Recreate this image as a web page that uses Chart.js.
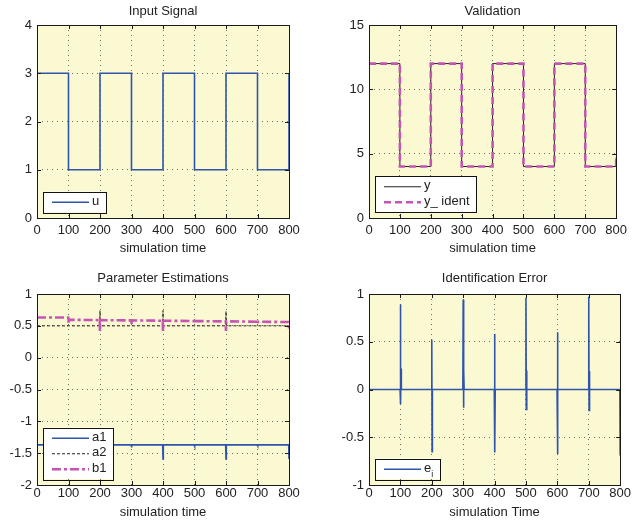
<!DOCTYPE html>
<html lang="en">
<head>
<meta charset="UTF-8">
<title>Identification results</title>
<script src="https://cdn.jsdelivr.net/npm/chart.js"></script>
<style>
body {
  margin: 0;
  background: #fff;
  width: 632px;
  height: 524px;
  position: relative;
  overflow: hidden;
}
.panel {
  position: absolute;
  width: 316px;
  height: 262px;
}
</style>
</head>
<body>
<div class="panel" style="left:0;top:0"><canvas id="input" width="316" height="262"></canvas></div>
<div class="panel" style="left:316px;top:0"><canvas id="valid" width="316" height="262"></canvas></div>
<div class="panel" style="left:0;top:262px"><canvas id="params" width="316" height="262"></canvas></div>
<div class="panel" style="left:316px;top:262px"><canvas id="error" width="316" height="262"></canvas></div>

<script>
// square wave signals: value held from each switch time to the next
const stepTimes = [0, 100, 200, 300, 400, 500, 600, 700, 800];
const uValues = [3, 1, 3, 1, 3, 1, 3, 1, 3];
const yValues = [12, 4, 12, 4, 12, 4, 12, 4, 4.7];
const yIdentValues = [12, 4, 12, 4, 12, 4, 12, 4, 4.7];

// parameter estimates (time, value)
const a1Times = [0, 99, 100, 101, 199, 200, 201, 299, 300, 301, 399, 400, 401, 499, 500, 501, 599, 600, 601, 699, 700, 701, 799, 800];
const a1Values = [-1.37, -1.37, -1.40, -1.37, -1.37, -1.45, -1.37, -1.37, -1.41, -1.37, -1.37, -1.59, -1.37, -1.37, -1.39, -1.37, -1.37, -1.59, -1.37, -1.37, -1.385, -1.37, -1.37, -1.59];
const a2Times = [0, 199, 200, 201, 399, 400, 401, 599, 600, 601, 800];
const a2Values = [0.5, 0.5, 0.74, 0.5, 0.5, 0.74, 0.5, 0.5, 0.73, 0.5, 0.5];
const b1Times = [0, 99, 100, 101, 199, 200, 201, 299, 300, 301, 399, 400, 401, 499, 500, 501, 599, 600, 601, 699, 700, 701, 799, 800];
const b1Values = [0.63, 0.63, 0.55, 0.595, 0.59, 0.42, 0.59, 0.585, 0.53, 0.585, 0.58, 0.42, 0.58, 0.575, 0.54, 0.575, 0.57, 0.42, 0.57, 0.565, 0.53, 0.565, 0.56, 0.45];

// identification error (time, value)
const eTimes = [0, 99, 100, 101, 102, 103, 199, 200, 201, 202, 299, 300, 301, 302, 303, 399, 400, 401, 402, 499, 500, 501, 502, 503, 599, 600, 601, 602, 699, 700, 701, 702, 703, 799, 800];
const eValues = [0, 0, 0.89, -0.155, 0.22, 0, 0, 0.52, -0.65, 0, 0, 0.94, -0.19, 0.21, 0, 0, 0.58, -0.66, 0, 0, 0.96, -0.21, 0.2, 0, 0, 0.60, -0.675, 0, 0, 0.97, -0.22, 0.19, 0, 0, -0.69];

const timeTicks = { min: 0, max: 800, step: 100 };

const FONT = "'Liberation Sans', Arial, sans-serif";
const BLUE = '#2f55ab';
const MAGENTA = '#c455b2';

function pairs(xs, ys) {
  return xs.map((x, i) => ({ x: x, y: ys[i] }));
}

// yellow axes, black box, inward ticks, title and a boxed legend like the original figure
const axesBox = {
  id: 'axesBox',
  beforeDraw(chart) {
    const a = chart.chartArea;
    const ctx = chart.ctx;
    ctx.save();
    ctx.fillStyle = '#fbf9d1';
    ctx.fillRect(a.left, a.top, a.right - a.left, a.bottom - a.top);
    ctx.restore();
  },
  afterDraw(chart, args, opts) {
    const a = chart.chartArea;
    const ctx = chart.ctx;
    ctx.save();
    ctx.strokeStyle = '#1a1a1a';
    ctx.lineWidth = 1;
    ctx.strokeRect(Math.round(a.left) + 0.5, Math.round(a.top) + 0.5,
      Math.round(a.right - a.left), Math.round(a.bottom - a.top));

    ctx.beginPath();
    chart.scales.x.ticks.forEach(t => {
      const px = Math.round(chart.scales.x.getPixelForValue(t.value)) + 0.5;
      ctx.moveTo(px, a.bottom); ctx.lineTo(px, a.bottom - 4);
      ctx.moveTo(px, a.top); ctx.lineTo(px, a.top + 4);
    });
    chart.scales.y.ticks.forEach(t => {
      const py = Math.round(chart.scales.y.getPixelForValue(t.value)) + 0.5;
      ctx.moveTo(a.left, py); ctx.lineTo(a.left + 4, py);
      ctx.moveTo(a.right, py); ctx.lineTo(a.right - 4, py);
    });
    ctx.stroke();

    // title
    ctx.fillStyle = '#222';
    ctx.font = '13px ' + FONT;
    ctx.textAlign = 'center';
    ctx.textBaseline = 'middle';
    ctx.fillText(opts.title, (a.left + a.right) / 2, opts.titleY);

    // legend
    const lg = opts.legend;
    const rows = chart.data.datasets;
    const rowH = 15.5;
    const h = rows.length * rowH + 5;
    const bx = a.left + 6;
    const by = a.bottom - 6 - h;
    ctx.fillStyle = '#fff';
    ctx.fillRect(bx, by, lg.width, h);
    ctx.lineWidth = 1;
    ctx.strokeStyle = '#111';
    ctx.strokeRect(Math.round(bx) + 0.5, Math.round(by) + 0.5, lg.width, Math.round(h));
    rows.forEach((ds, i) => {
      const cy = by + 3 + rowH * (i + 0.5);
      ctx.save();
      ctx.strokeStyle = ds.borderColor;
      ctx.lineWidth = ds.borderWidth;
      ctx.setLineDash(ds.borderDash || []);
      ctx.beginPath();
      ctx.moveTo(bx + 9, cy);
      ctx.lineTo(bx + 46, cy);
      ctx.stroke();
      ctx.restore();
      ctx.fillStyle = '#222';
      ctx.textAlign = 'left';
      ctx.font = '13px ' + FONT;
      const m = ds.label.match(/^(.*)_(\S)$/);
      if (m) {
        ctx.fillText(m[1], bx + 49, cy - 1);
        const w = ctx.measureText(m[1]).width;
        ctx.font = '9px ' + FONT;
        ctx.fillText(m[2], bx + 49 + w, cy + 5);
      } else {
        ctx.fillText(ds.label, bx + 49, cy - 1);
      }
    });
    ctx.restore();
  }
};

function makePanel(id, cfg) {
  new Chart(document.getElementById(id), {
    type: 'line',
    data: { datasets: cfg.datasets },
    options: {
      responsive: false,
      animation: false,
      events: [],
      layout: { padding: { top: cfg.top, right: cfg.right, left: 0, bottom: 0 } },
      elements: { point: { radius: 0 }, line: { tension: 0 } },
      plugins: {
        legend: { display: false },
        tooltip: { enabled: false },
        axesBox: { title: cfg.title, titleY: cfg.titleY, legend: { width: cfg.legendWidth } }
      },
      scales: {
        x: {
          type: 'linear',
          min: timeTicks.min,
          max: timeTicks.max,
          afterFit: s => { s.height = cfg.xHeight; },
          ticks: { stepSize: timeTicks.step, color: '#222', padding: cfg.xTickPad, maxRotation: 0, font: { family: FONT, size: 13 } },
          grid: { color: 'rgba(60,60,60,0.75)', lineWidth: 1, drawTicks: false },
          border: { display: false, dash: [1, 4] },
          title: { display: true, text: cfg.xTitle, color: '#222', padding: { top: 0, bottom: cfg.xTitlePad }, font: { family: FONT, size: 13 } }
        },
        y: {
          min: cfg.yMin,
          max: cfg.yMax,
          afterFit: s => { s.width = cfg.yWidth; },
          ticks: { stepSize: cfg.yStep, color: '#222', padding: 5, font: { family: FONT, size: 13 }, callback: v => String(v) },
          grid: { color: 'rgba(60,60,60,0.75)', lineWidth: 1, drawTicks: false },
          border: { display: false, dash: [1, 4] }
        }
      }
    },
    plugins: [axesBox]
  });
}

makePanel('input', {
  title: 'Input Signal', titleY: 11, top: 25, right: 27, yWidth: 37, xHeight: 44,
  xTickPad: 5, xTitlePad: 6, xTitle: 'simulation time',
  yMin: 0, yMax: 4, yStep: 1, legendWidth: 63,
  datasets: [
    { label: 'u', data: pairs(stepTimes, uValues), stepped: 'before', borderColor: BLUE, borderWidth: 1.6 }
  ]
});

makePanel('valid', {
  title: 'Validation', titleY: 11, top: 25, right: 11, yWidth: 53, xHeight: 44,
  xTickPad: 5, xTitlePad: 6, xTitle: 'simulation time',
  yMin: 0, yMax: 15, yStep: 5, legendWidth: 101,
  datasets: [
    { label: 'y', data: pairs(stepTimes, yValues), stepped: 'before', borderColor: '#222', borderWidth: 1, order: 1 },
    { label: 'y_ ident', data: pairs(stepTimes, yIdentValues), stepped: 'before', borderColor: MAGENTA, borderWidth: 2.6, borderDash: [7, 4], order: 0 }
  ]
});

makePanel('params', {
  title: 'Parameter Estimations', titleY: 16, top: 32, right: 27, yWidth: 37, xHeight: 39,
  xTickPad: 1, xTitlePad: 4, xTitle: 'simulation time',
  yMin: -2, yMax: 1, yStep: 0.5, legendWidth: 70,
  datasets: [
    { label: 'a1', data: pairs(a1Times, a1Values), borderColor: BLUE, borderWidth: 1.6, order: 2 },
    { label: 'a2', data: pairs(a2Times, a2Values), borderColor: '#222', borderWidth: 1, borderDash: [3, 2], order: 1 },
    { label: 'b1', data: pairs(b1Times, b1Values), borderColor: MAGENTA, borderWidth: 2.6, borderDash: [9, 3, 3, 3], order: 0 }
  ]
});

makePanel('error', {
  title: 'Identification Error', titleY: 16, top: 32, right: 11, yWidth: 53, xHeight: 39,
  xTickPad: 1, xTitlePad: 4, xTitle: 'simulation Time',
  yMin: -1, yMax: 1, yStep: 0.5, legendWidth: 65,
  datasets: [
    { label: 'e_i', data: pairs(eTimes, eValues), borderColor: BLUE, borderWidth: 1.6 }
  ]
});
</script>
</body>
</html>
